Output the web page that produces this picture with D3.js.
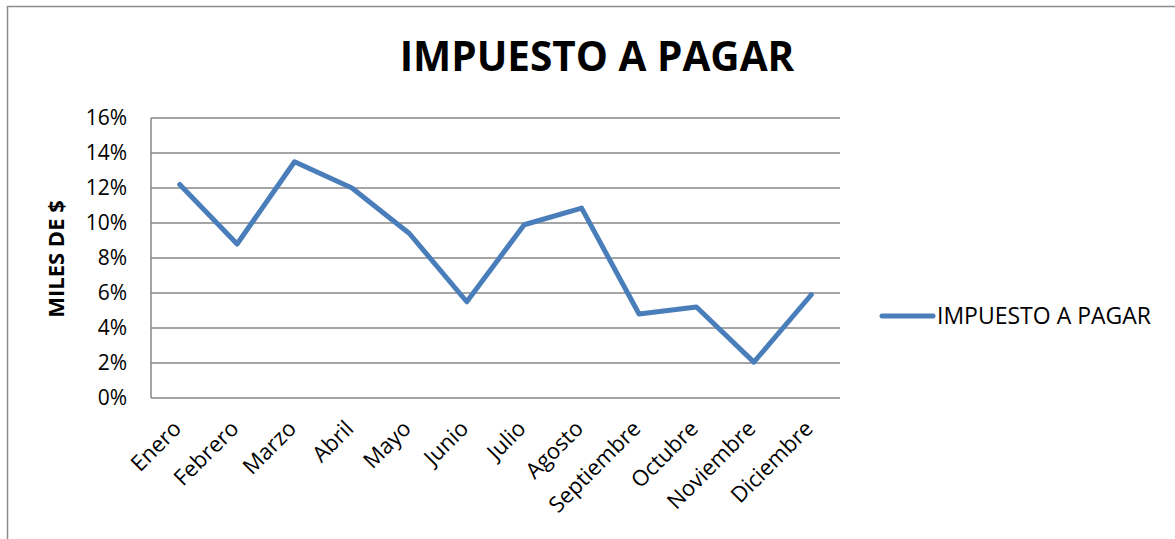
<!DOCTYPE html>
<html>
<head>
<meta charset="utf-8">
<script src="https://cdn.jsdelivr.net/npm/d3@7"></script>
<style>
  body { margin: 0; background: #fff; }
  svg { display: block; font-family: "Open Sans", Calibri, sans-serif; }
</style>
</head>
<body>
<svg width="1175" height="539"></svg>
<script>
var meses = ["Enero", "Febrero", "Marzo", "Abril", "Mayo", "Junio", "Julio", "Agosto", "Septiembre", "Octubre", "Noviembre", "Diciembre"];
var impuesto = [0.122, 0.088, 0.135, 0.120, 0.094, 0.055, 0.099, 0.1085, 0.048, 0.052, 0.0205, 0.059];
var yTicks = [0, 0.02, 0.04, 0.06, 0.08, 0.10, 0.12, 0.14, 0.16];
var titulo = "IMPUESTO A PAGAR";
var serie = "IMPUESTO A PAGAR";
var ejeY = "MILES DE $";

var svg = d3.select("svg");
var blue = "#4a7ebb", grid = "#878787";

// outer chart border (right/bottom run off the picture)
svg.append("rect")
    .attr("x", 7.5).attr("y", 6.5)
    .attr("width", 1300).attr("height", 700)
    .attr("fill", "none").attr("stroke", "#8c8c8c").attr("stroke-width", 1.5);

var pLeft = 151, pRight = 840, pTop = 118, pBottom = 398;

var x = d3.scalePoint().domain(meses).range([pLeft, pRight]).padding(0.5);
var y = d3.scaleLinear().domain([0, 0.16]).range([pBottom, pTop]);

// gridlines
svg.append("g").selectAll("line")
    .data(yTicks)
    .enter().append("line")
    .attr("x1", pLeft).attr("x2", pRight)
    .attr("y1", d => y(d)).attr("y2", d => y(d))
    .attr("stroke", grid).attr("stroke-width", 1.5);

// left axis line
svg.append("line")
    .attr("x1", pLeft).attr("x2", pLeft)
    .attr("y1", pTop).attr("y2", pBottom)
    .attr("stroke", grid).attr("stroke-width", 1.5);

// y tick labels
svg.append("g").selectAll("text")
    .data(yTicks)
    .enter().append("text")
    .attr("x", 127)
    .attr("y", d => y(d) + 7)
    .attr("text-anchor", "end")
    .attr("font-size", 21)
    .text(d => d3.format(".0%")(d));

// x labels
svg.append("g").selectAll("text")
    .data(meses)
    .enter().append("text")
    .attr("transform", d => "translate(" + (x(d) + 3) + "," + 430 + ") rotate(-45)")
    .attr("text-anchor", "end")
    .attr("font-size", 22)
    .text(d => d);

// y axis title
svg.append("text")
    .attr("transform", "translate(64," + 259 + ") rotate(-90)")
    .attr("text-anchor", "middle")
    .attr("font-size", 22)
    .attr("font-weight", "bold")
    .text(ejeY);

// chart title
svg.append("text")
    .attr("x", 597).attr("y", 71)
    .attr("text-anchor", "middle")
    .attr("font-size", 40.5)
    .attr("font-weight", "bold")
    .text(titulo);

// series line
var line = d3.line()
    .x((d, i) => x(meses[i]))
    .y(d => y(d));

svg.append("path")
    .datum(impuesto)
    .attr("d", line)
    .attr("fill", "none")
    .attr("stroke", blue)
    .attr("stroke-width", 5)
    .attr("stroke-linejoin", "round")
    .attr("stroke-linecap", "round");

// legend
svg.append("line")
    .attr("x1", 882).attr("x2", 933)
    .attr("y1", 316).attr("y2", 316)
    .attr("stroke", blue).attr("stroke-width", 5)
    .attr("stroke-linecap", "round");
svg.append("text")
    .attr("x", 937).attr("y", 324)
    .attr("font-size", 23)
    .text(serie);
</script>
</body>
</html>
